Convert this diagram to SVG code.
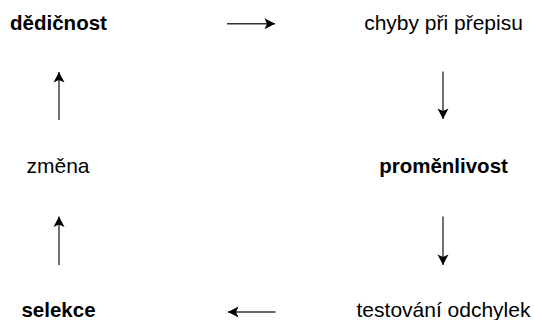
<svg xmlns="http://www.w3.org/2000/svg" width="534" height="320" viewBox="0 0 534 320">
<style>
  text { font-family: "Liberation Sans", Arial, sans-serif; font-size: 21px; fill: #000; text-anchor: middle; }
  .b { font-weight: bold; font-size: 20.5px; }
  .c { stroke: #333; stroke-width: 1.4; fill: none; marker-end: url(#ah); }
</style>
<defs>
  <marker id="ah" markerUnits="userSpaceOnUse" markerWidth="13" markerHeight="13" viewBox="0 0 13 13" refX="12" refY="6.5" orient="auto">
    <path d="M1.5,1 L12,6.5 L1.5,12 L4,6.5 Z" fill="#000"/>
  </marker>
</defs>
<rect width="534" height="320" fill="#fff"/>
<g id="n-dedicnost"><text class="b" x="58.5" y="30">dědičnost</text></g>
<g id="n-chyby"><text x="443.5" y="30">chyby při přepisu</text></g>
<g id="n-promenlivost"><text class="b" x="443.5" y="173">proměnlivost</text></g>
<g id="n-testovani"><text x="443.5" y="317">testování odchylek</text></g>
<g id="n-selekce"><text class="b" x="58.5" y="317">selekce</text></g>
<g id="n-zmena"><text x="58" y="173">změna</text></g>
<g id="connectors">
  <line class="c" x1="227" y1="23.7" x2="275" y2="23.7"/>
  <line class="c" x1="443" y1="71.5" x2="443" y2="119"/>
  <line class="c" x1="443" y1="216.5" x2="443" y2="265"/>
  <line class="c" x1="275.5" y1="312" x2="228" y2="312"/>
  <line class="c" x1="59" y1="265" x2="59" y2="216.5"/>
  <line class="c" x1="59" y1="120" x2="59" y2="72"/>
</g>
</svg>
